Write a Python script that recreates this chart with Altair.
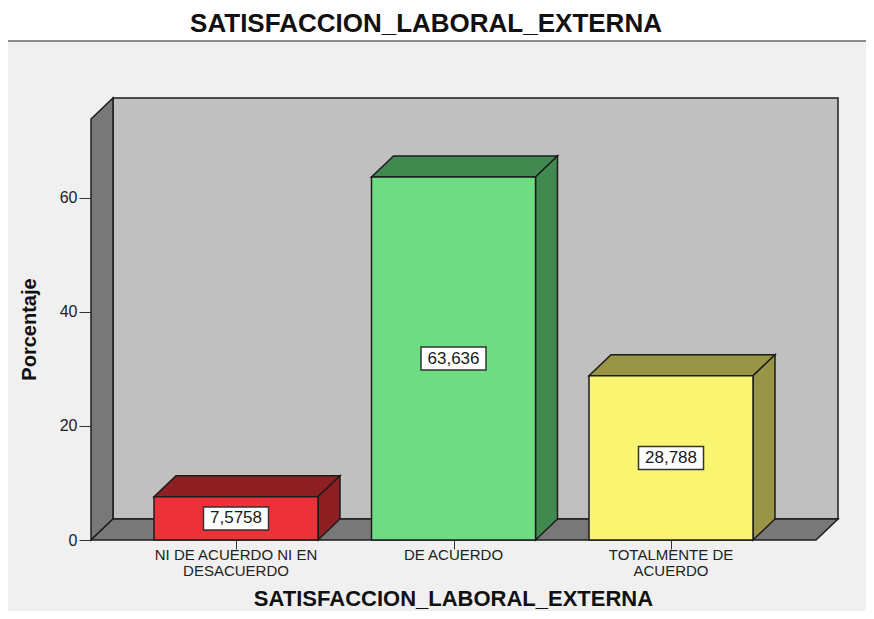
import textwrap
import altair as alt
import pandas as pd

# ---------------- data ----------------
categories = ["NI DE ACUERDO NI EN DESACUERDO", "DE ACUERDO", "TOTALMENTE DE ACUERDO"]
values = [7.5758, 63.636, 28.788]
front_colors = ["#EE3039", "#6FDC84", "#F9F571"]
shade_colors = ["#8E1F23", "#418A4F", "#999546"]
y_ticks = [0, 20, 40, 60]
chart_title = "SATISFACCION_LABORAL_EXTERNA"
x_title = "SATISFACCION_LABORAL_EXTERNA"
y_title = "Porcentaje"

# ---------------- geometry / style ----------------
HALF = 0.377          # half bar width in category steps
DX = 0.1011           # 3-D depth (x, category units)
DY = 3.68             # 3-D depth (y, percent units)
X_LO, X_HI = -2 / 3, 8 / 3
Y_MAX = 77.5
Y_FRONT_TOP = Y_MAX - DY
W, H = 747, 442
FONT = "Liberation Sans"
EDGE = "#1c1c1c"

xs = alt.Scale(domain=[X_LO, X_HI + DX], nice=False, zero=False)
ys = alt.Scale(domain=[0, Y_MAX], nice=False, zero=False)

x_axis = alt.Axis(
    values=[0, 1, 2], labels=False, domain=False, grid=False, zindex=2,
    tickSize=9, tickColor="#333333", tickWidth=1,
    title=x_title, titleFont=FONT, titleFontSize=22, titleFontWeight="bold",
    titleColor="#111111", titleX=362, titleY=65,
    titleAlign="center", titleBaseline="alphabetic",
)
y_axis = alt.Axis(
    values=y_ticks, domain=False, grid=False, zindex=2, tickSize=12,
    tickColor="#333333", tickWidth=1, labelPadding=2, labelFont=FONT,
    labelFontSize=16, labelColor="#222222",
    title=y_title, titleFont=FONT, titleFontSize=20, titleFontWeight="bold",
    titleColor="#111111", titleAngle=270, titleX=-56, titleY=231,
    titleAlign="center", titleBaseline="alphabetic",
)


def X(field):
    return alt.X(field, scale=xs, axis=x_axis)


def Y(field):
    return alt.Y(field, scale=ys, axis=y_axis)


# bars table
bars = pd.DataFrame({
    "cat": categories,
    "label": ["\n".join(textwrap.wrap(c, 20)) for c in categories],
    "value": values,
    "front": front_colors,
})
bars["xc"] = range(len(categories))
bars["x0"] = bars["xc"] - HALF
bars["x1"] = bars["xc"] + HALF
bars["zero"] = 0.0
bars["mid"] = bars["value"] / 2
bars["txt"] = [str(v).replace(".", ",") for v in values]

# 3-D faces of the bars (top + side), built from the values
faces = []
for i, (v, col) in enumerate(zip(values, shade_colors)):
    x0, x1 = i - HALF, i + HALF
    pid = f"top{i}"
    for x, lo, hi in [(x0, v, v), (x0 + DX, v, v + DY), (x1, v, v + DY), (x1 + DX, v + DY, v + DY)]:
        faces.append({"pid": pid, "x": x, "lo": lo, "hi": hi, "fill": col})
    pid = f"side{i}"
    for x, lo, hi in [(x1, 0, v), (x1 + DX, DY, v + DY)]:
        faces.append({"pid": pid, "x": x, "lo": lo, "hi": hi, "fill": col})
faces = pd.DataFrame(faces)

# walls (left wall + floor)
walls = pd.DataFrame([
    {"pid": "left", "x": X_LO, "lo": 0, "hi": Y_FRONT_TOP},
    {"pid": "left", "x": X_LO + DX, "lo": DY, "hi": Y_MAX},
    {"pid": "floor", "x": X_LO, "lo": 0, "hi": 0},
    {"pid": "floor", "x": X_LO + DX, "lo": 0, "hi": DY},
    {"pid": "floor", "x": X_HI, "lo": 0, "hi": DY},
    {"pid": "floor", "x": X_HI + DX, "lo": DY, "hi": DY},
])
back = pd.DataFrame({"x0": [X_LO + DX], "x1": [X_HI + DX], "y0": [DY], "y1": [Y_MAX]})
one = pd.DataFrame({"t": [chart_title]})

# ---------------- layers ----------------
panel = alt.Chart(one).mark_rect(fill="#F0F0F0").encode(
    x=alt.value(-83), x2=alt.value(783), y=alt.value(-56), y2=alt.value(530)
)
sep = alt.Chart(one).mark_rule(color="#8C8C8C", strokeWidth=2).encode(
    x=alt.value(-83), x2=alt.value(783), y=alt.value(-57)
)
title_txt = alt.Chart(one).mark_text(
    font=FONT, fontSize=26, fontWeight="bold", color="#111111",
    align="center", baseline="alphabetic",
).encode(x=alt.value(335), y=alt.value(-66), text="t:N")

back_wall = alt.Chart(back).mark_rect(fill="#C0C0C0", stroke=EDGE, strokeWidth=1.5).encode(
    x=X("x0:Q"), x2="x1:Q", y=Y("y0:Q"), y2="y1:Q",
)

wall_area = alt.Chart(walls).mark_area(
    orient="vertical", fill="#787878", stroke=EDGE, strokeWidth=1.5, strokeJoin="miter"
).encode(
    x=X("x:Q"), y=Y("lo:Q"), y2="hi:Q", detail="pid:N",
)

face_area = alt.Chart(faces).mark_area(
    orient="vertical", stroke=EDGE, strokeWidth=1.5, strokeJoin="miter"
).encode(
    x=X("x:Q"), y=Y("lo:Q"), y2="hi:Q",
    fill=alt.Fill("fill:N", scale=None), detail="pid:N",
)

front = alt.Chart(bars).mark_rect(stroke=EDGE, strokeWidth=1.5).encode(
    x=X("x0:Q"), x2="x1:Q", y=Y("zero:Q"), y2="value:Q",
    fill=alt.Fill("front:N", scale=None),
)

boxes = alt.Chart(bars).mark_rect(
    fill="white", stroke="#333333", strokeWidth=1.5,
    xOffset=-32.5, x2Offset=32.5, yOffset=-11.5, y2Offset=11.5,
).encode(
    x=X("xc:Q"), x2="xc:Q", y=Y("mid:Q"), y2="mid:Q",
)

box_text = alt.Chart(bars).mark_text(
    font=FONT, fontSize=17, color="#1a1a1a", baseline="middle", align="center"
).encode(
    x=X("xc:Q"), y=Y("mid:Q"), text="txt:N",
)

cat_text = alt.Chart(bars).mark_text(
    font=FONT, fontSize=15, color="#222222", baseline="top", align="center",
    lineBreak="\n", lineHeight=16,
).encode(
    x=X("xc:Q"), y=alt.value(450), text="label:N",
)

chart = alt.layer(
    panel, sep, title_txt, back_wall, wall_area, face_area, front, boxes, box_text, cat_text
).properties(
    width=W, height=H,
    autosize=alt.AutoSizeParams(type="none"),
    padding={"left": 83, "top": 90, "right": 28, "bottom": 71},
    background="white",
).configure_view(stroke=None)

chart.save("out.html", embed_options={"renderer": "svg", "actions": False})
